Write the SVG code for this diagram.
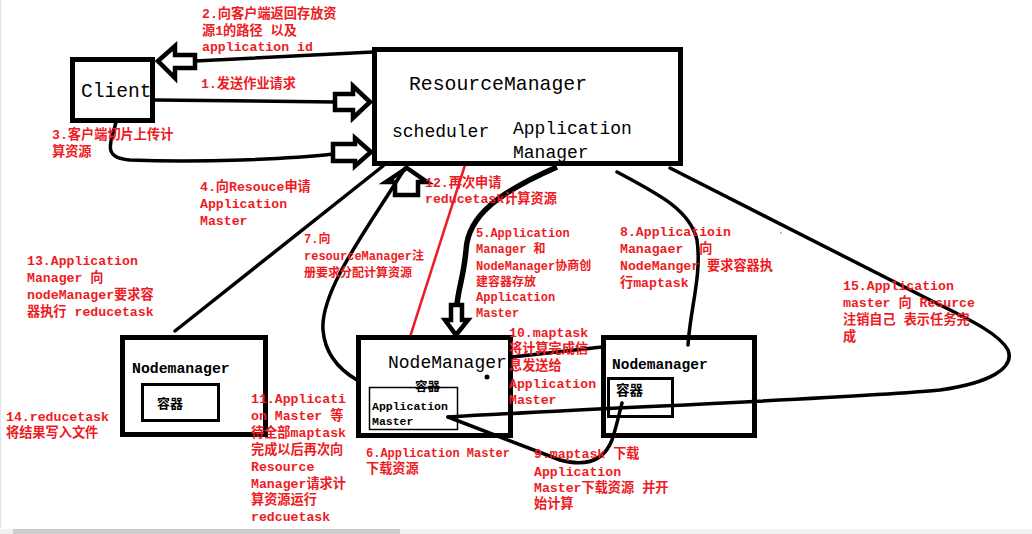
<svg xmlns="http://www.w3.org/2000/svg" width="1032" height="534" viewBox="0 0 1032 534">
<style>
.lbl{font-family:"Liberation Mono","Noto Sans CJK SC",monospace;font-weight:bold;font-size:13.2px;fill:#ED1C24;white-space:pre}
.sm{font-size:12px}
.nm{font-family:"Liberation Mono","Noto Sans CJK SC",monospace;fill:#000;white-space:pre}
.b{font-weight:bold}
.box{fill:none;stroke:#000;stroke-width:5}
.ln{fill:none;stroke:#000;stroke-width:3.5;stroke-linecap:round;stroke-linejoin:round}
.blk{fill:none;stroke:#000;stroke-width:4.5;stroke-linejoin:miter}
</style>
<rect width="1032" height="534" fill="#fff"/>
<line x1="0.5" y1="0" x2="0.5" y2="528" stroke="#dfe6ec" stroke-width="1.5"/>
<rect x="0" y="529" width="1032" height="5" fill="#f0f0f0"/>
<rect x="13" y="529" width="387" height="5" fill="#cdcdcd"/>

<g id="connectors">
  <!-- 2: RM to client -->
  <path class="ln" d="M373 52 L195 61"/>
  <polygon class="blk" points="158,61 175,46 175,55 195,55 195,68 175,68 175,78"/>
  <!-- 1: client to RM -->
  <path class="ln" d="M155 100 L335 102"/>
  <polygon class="blk" points="335,94 353,94 353,86 370,102 353,118 353,110 335,110"/>
  <!-- 3 -->
  <path class="ln" d="M116 122 C112 140 100 158 130 160 C200 163 290 159 333 154"/>
  <polygon class="blk" points="333,144 355,144 355,138 371,152 355,166 355,161 333,161"/>
  <!-- 13 -->
  <path class="ln" d="M175 331 L383 166"/>
  <!-- 7 -->
  <path class="ln" d="M405 168 C370 225 320 290 323 330 C325 355 340 370 357 380"/>
  <polygon class="blk" points="407,168 427,182 418,182 418,195 395,195 395,182 386,182"/>
  <!-- 12 red -->
  <line x1="465" y1="165" x2="410" y2="337" stroke="#ED1C24" stroke-width="2.5"/>
  <!-- 5 thick -->
  <path d="M557 167 C500 192 468 215 466 250 C464 275 458 290 457 305" fill="none" stroke="#000" stroke-width="5.5"/>
  <polygon class="blk" points="451,305 462,305 462,320 468,320 456,335 445,320 451,320"/>
  <!-- 8 -->
  <path class="ln" d="M617 172 C660 195 690 210 697 240 C702 275 690 310 688 345"/>
  <!-- 15 -->
  <path class="ln" d="M670 168 L930 300 C975 322 1000 335 1008 350 C1015 368 990 383 940 390 C860 398 600 408 448 417"/>
  <!-- 9 -->
  <path class="ln" d="M448 417 L560 460 C590 468 605 458 612 440 C617 425 620 410 622 403"/>
  <!-- 10 -->
  <path class="ln" d="M512 357 L602 347"/>
</g>

<g id="client">
  <rect class="box" x="72.5" y="59.5" width="80" height="61"/>
  <text class="nm" x="81" y="97" font-size="19.6">Client</text>
</g>

<g id="resourcemanager">
  <rect class="box" x="374.5" y="49.5" width="306" height="114"/>
  <text class="nm" x="409" y="90" font-size="19.8">ResourceManager</text>
  <text class="nm" x="392" y="137" font-size="18">scheduler</text>
  <text class="nm" x="513" y="134" font-size="18">Application</text>
  <text class="nm" x="513" y="158" font-size="18">Manager</text>
</g>

<g id="nodemanager-left">
  <rect class="box" x="122.5" y="337.5" width="143" height="97"/>
  <text class="nm b" x="132" y="373" font-size="14.8">Nodemanager</text>
  <rect x="142.5" y="384.5" width="76" height="36" fill="none" stroke="#000" stroke-width="3"/>
  <text class="nm b" x="157" y="408" font-size="13">容器</text>
</g>

<g id="nodemanager-middle">
  <rect class="box" x="358.5" y="337.5" width="152" height="98"/>
  <text class="nm" x="388" y="368" font-size="18">NodeManager</text>
  <circle cx="487" cy="377" r="2.5" fill="#000"/>
  <text class="nm b" x="415" y="391" font-size="12.5">容器</text>
  <rect x="369.5" y="387.5" width="88" height="42" fill="none" stroke="#000" stroke-width="1.5"/>
  <text class="nm b" x="372" y="410" font-size="11.5">Application</text>
  <text class="nm b" x="372" y="425" font-size="11.5">Master</text>
</g>

<g id="nodemanager-right">
  <rect class="box" x="603.5" y="337.5" width="151" height="98"/>
  <text class="nm b" x="612" y="369" font-size="14.5">Nodemanager</text>
  <rect x="608.5" y="378.5" width="64" height="38" fill="none" stroke="#000" stroke-width="3"/>
  <text class="nm b" x="616" y="395" font-size="13.5">容器</text>
</g>

<circle cx="781" cy="233" r="0.8" fill="#666"/>

<g id="labels">
  <text class="lbl" x="202" y="18">2.向客户端返回存放资</text>
  <text class="lbl" x="202" y="35">源1的路径 以及</text>
  <text class="lbl" x="202" y="51">application id</text>

  <text class="lbl" x="201" y="88">1.发送作业请求</text>

  <text class="lbl" x="52" y="139">3.客户端切片上传计</text>
  <text class="lbl" x="52" y="156">算资源</text>

  <text class="lbl" x="200" y="191">4.向Resouce申请</text>
  <text class="lbl" x="200" y="208">Application</text>
  <text class="lbl" x="200" y="225">Master</text>

  <text class="lbl" x="425" y="187">12.再次申请</text>
  <text class="lbl" x="425" y="203">reducetask计算资源</text>

  <text class="lbl sm" x="304" y="243">7.向</text>
  <text class="lbl sm" x="304" y="260">resourceManager注</text>
  <text class="lbl sm" x="304" y="277">册要求分配计算资源</text>

  <text class="lbl sm" x="476" y="237">5.Application</text>
  <text class="lbl sm" x="476" y="253">Manager 和</text>
  <text class="lbl sm" x="476" y="270">NodeManager协商创</text>
  <text class="lbl sm" x="476" y="286">建容器存放</text>
  <text class="lbl sm" x="476" y="301">Application</text>
  <text class="lbl sm" x="476" y="317">Master</text>

  <text class="lbl" x="620" y="236">8.Applicatioin</text>
  <text class="lbl" x="620" y="253">Managaer  向</text>
  <text class="lbl" x="620" y="270">NodeManger 要求容器执</text>
  <text class="lbl" x="620" y="287">行maptask</text>

  <text class="lbl" x="843" y="290">15.Application</text>
  <text class="lbl" x="843" y="307">master 向 Resurce</text>
  <text class="lbl" x="843" y="324">注销自己 表示任务完</text>
  <text class="lbl" x="843" y="341">成</text>

  <text class="lbl" x="27" y="265">13.Application</text>
  <text class="lbl" x="27" y="282">Manager 向</text>
  <text class="lbl" x="27" y="299">nodeManager要求容</text>
  <text class="lbl" x="27" y="316">器执行 reducetask</text>

  <text class="lbl" x="6" y="421">14.reducetask</text>
  <text class="lbl" x="6" y="437">将结果写入文件</text>

  <text class="lbl" x="251" y="403">11.Applicati</text>
  <text class="lbl" x="251" y="420">on Master 等</text>
  <text class="lbl" x="251" y="437">待全部maptask</text>
  <text class="lbl" x="251" y="454">完成以后再次向</text>
  <text class="lbl" x="251" y="471">Resource</text>
  <text class="lbl" x="251" y="488">Manager请求计</text>
  <text class="lbl" x="251" y="504">算资源运行</text>
  <text class="lbl" x="251" y="521">redcuetask</text>

  <text class="lbl sm" x="366" y="457">6.Application Master</text>
  <text class="lbl" x="366" y="473">下载资源</text>

  <text class="lbl" x="509" y="337">10.maptask</text>
  <text class="lbl" x="509" y="353">将计算完成信</text>
  <text class="lbl" x="509" y="370">息发送给</text>
  <text class="lbl" x="509" y="388">Application</text>
  <text class="lbl" x="509" y="404">Master</text>

  <text class="lbl" x="534" y="458">9.maptask 下载</text>
  <text class="lbl" x="534" y="476">Application</text>
  <text class="lbl" x="534" y="492">Master下载资源 并开</text>
  <text class="lbl" x="534" y="508">始计算</text>
</g>
</svg>
